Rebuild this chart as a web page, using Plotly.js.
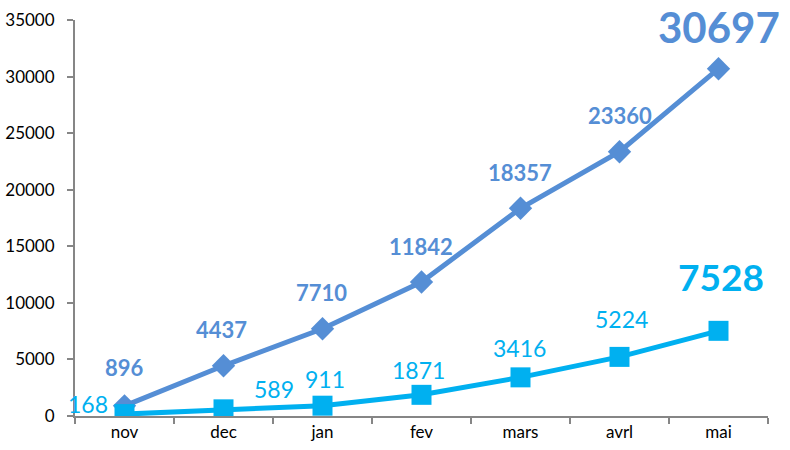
<!DOCTYPE html>
<html>
<head>
<meta charset="utf-8">
<script src="https://cdn.plot.ly/plotly-3.0.1.min.js"></script>
<style>html,body{margin:0;padding:0;background:#fff;}#chart{width:790px;height:450px;}</style>
</head>
<body>
<div id="chart"></div>
<script>
const months = ["nov", "dec", "jan", "fev", "mars", "avrl", "mai"];
const totalSeries = [896, 4437, 7710, 11842, 18357, 23360, 30697];
const monthlySeries = [168, 589, 911, 1871, 3416, 5224, 7528];
const yTicks = [0, 5000, 10000, 15000, 20000, 25000, 30000, 35000];

const colTotal = "#558ED5";
const colMonthly = "#00B0F0";
const font = "Lato, 'Open Sans', sans-serif";

// label placement offsets (px) relative to each point
const totalOffsets = [[0,38],[-2,36],[-1,36],[-1,36],[-1,36],[0,36],[0,42]];
const monthlyOffsets = [[-37,10],[50,20],[2,27],[-3,25],[-1,29],[2,38],[2,54]];

const traces = [
  {
    x: months, y: totalSeries, type: "scatter", mode: "lines+markers",
    line: {color: colTotal, width: 5},
    marker: {symbol: "diamond", size: 18, color: colTotal},
    hoverinfo: "skip"
  },
  {
    x: months, y: monthlySeries, type: "scatter", mode: "lines+markers",
    line: {color: colMonthly, width: 5},
    marker: {symbol: "square", size: 20, color: colMonthly},
    hoverinfo: "skip"
  }
];

const annotations = [];
const last = months.length - 1;
totalSeries.forEach((v, i) => {
  annotations.push({
    x: months[i], y: v, xref: "x", yref: "y", showarrow: false,
    text: "<b>" + v + "</b>",
    xshift: totalOffsets[i][0], yshift: totalOffsets[i][1],
    font: {family: font, size: i === last ? 42 : 22, color: colTotal}
  });
});
monthlySeries.forEach((v, i) => {
  annotations.push({
    x: months[i], y: v, xref: "x", yref: "y", showarrow: false,
    text: i === last ? "<b>" + v + "</b>" : String(v),
    xshift: monthlyOffsets[i][0], yshift: monthlyOffsets[i][1],
    font: {family: font, size: i === last ? 37 : 23, color: colMonthly}
  });
});

const layout = {
  width: 790, height: 450,
  margin: {l: 75, r: 22, t: 20, b: 34},
  paper_bgcolor: "#fff", plot_bgcolor: "#fff",
  showlegend: false,
  font: {family: font, size: 17, color: "#000"},
  xaxis: {
    type: "category", range: [-0.5, 6.5],
    showline: true, linecolor: "#868686", linewidth: 2,
    ticks: "outside", tickson: "boundaries", ticklen: 6, tickcolor: "#868686", tickwidth: 2,
    showgrid: false, zeroline: false,
    tickfont: {family: font, size: 17, color: "#000"}
  },
  yaxis: {
    range: [0, 35000], tickvals: yTicks, ticktext: yTicks.map(String),
    showline: true, linecolor: "#868686", linewidth: 2,
    ticks: "outside", ticklen: 6, tickcolor: "#868686", tickwidth: 2,
    showgrid: false, zeroline: false,
    ticklabelstandoff: 9,
    tickfont: {family: font, size: 17, color: "#000"}
  },
  annotations: annotations
};

Plotly.newPlot("chart", traces, layout, {displayModeBar: false, staticPlot: true});
</script>
</body>
</html>
